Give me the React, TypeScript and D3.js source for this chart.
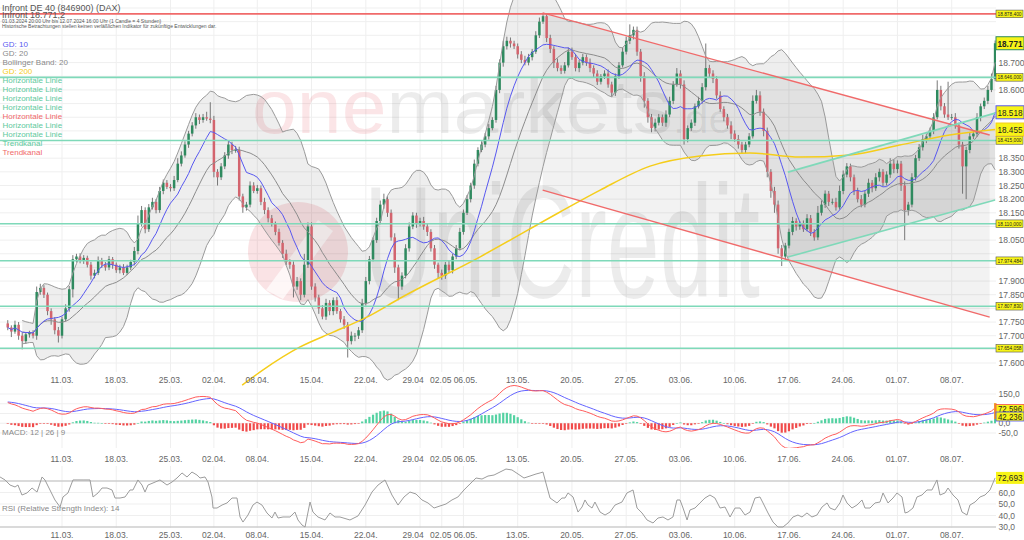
import React from "react";
import * as d3 from "d3";

// ---------------- data ----------------
const FIRST_OPEN = 17745;
const LAST_QUOTE = 18771.2;

// closes of 4h candles, 3 per trading day, 04.03.2024 ... 12.07.2024
const closes: number[] = [
  17730, 17715, 17740, 17700, 17680, 17705, 17710, 17700, 17860, 17875, 17850, 17790,
  17760, 17720, 17700, 17760, 17800, 17870, 17980, 17990, 17975, 17985, 17960, 17920,
  17930, 17975, 17960, 17950, 17980, 17960, 17940, 17950, 17930, 17950, 17970, 18010,
  18110, 18160, 18090, 18170, 18190, 18160, 18230, 18260, 18245, 18240, 18270, 18330,
  18360, 18400, 18440, 18470, 18500, 18490, 18500, 18495, 18490, 18300, 18280, 18320,
  18360, 18400, 18380, 18380, 18210, 18170, 18180, 18250, 18230, 18240, 18190, 18160,
  18130, 18110, 18080, 18040, 18000, 17970, 17960, 17880, 17900, 17850, 17960, 18100,
  17880, 17840, 17800, 17770, 17820, 17790, 17830, 17790, 17760, 17740, 17680, 17700,
  17700, 17720, 17820, 17900, 17980, 18050, 18120, 18180, 18200, 18150, 18060, 17950,
  17880, 17920, 18020, 18100, 18140, 18110, 18120, 18100, 18080, 18020, 17960, 17930,
  17920, 17960, 17940, 17990, 18020, 18080, 18150, 18200, 18250, 18330, 18380, 18400,
  18430, 18460, 18490, 18600, 18700, 18760, 18780, 18770, 18760, 18730, 18710, 18700,
  18720, 18740, 18800, 18850, 18870, 18790, 18750, 18700, 18680, 18670, 18690, 18740,
  18720, 18680, 18700, 18720, 18700, 18680, 18660, 18630, 18650, 18660, 18620, 18590,
  18650, 18690, 18740, 18780, 18800, 18820, 18740, 18650, 18560, 18500, 18460, 18480,
  18500, 18480, 18510, 18560, 18620, 18660, 18620, 18420, 18460, 18480, 18540, 18560,
  18610, 18680, 18660, 18640, 18580, 18530, 18500, 18470, 18440, 18420, 18400, 18380,
  18400, 18430, 18560, 18580, 18520, 18450, 18300, 18230, 18180, 18020, 17990, 18030,
  18080, 18120, 18100, 18110, 18090, 18130, 18080, 18060, 18150, 18180, 18220, 18190,
  18190, 18170, 18230, 18290, 18320, 18280, 18230, 18200, 18180, 18220, 18260, 18240,
  18280, 18300, 18260, 18290, 18330, 18310, 18330, 18250, 18160, 18180, 18280, 18350,
  18390, 18420, 18430, 18450, 18500, 18600, 18540, 18510, 18500, 18500, 18470, 18400,
  18320, 18380, 18430, 18440, 18500, 18540, 18560, 18600, 18640, 18771,
];

const upWick: number[] = [
  12, 8, 15, 10, 12, 8, 8, 10, 20, 15, 10, 8, 10, 8, 12, 10, 15, 12, 15, 10, 12, 10, 8, 10,
  12, 15, 10, 10, 12, 8, 8, 10, 12, 10, 8, 15, 30, 15, 10, 12, 15, 10, 15, 12, 10, 10, 15, 20,
  15, 12, 10, 12, 15, 10, 12, 20, 60, 15, 10, 12, 12, 15, 10, 15, 12, 10, 10, 15, 12, 12, 10, 15,
  10, 12, 8, 12, 10, 15, 10, 12, 15, 10, 40, 15, 15, 12, 10, 12, 15, 10, 10, 12, 8, 12, 10, 15,
  10, 12, 15, 15, 12, 10, 12, 15, 20, 10, 12, 15, 10, 12, 15, 15, 12, 10, 12, 15, 10, 10, 12, 8,
  12, 10, 15, 10, 12, 15, 12, 15, 10, 15, 10, 12, 12, 15, 10, 15, 12, 20, 15, 12, 10, 10, 12, 15,
  12, 10, 15, 15, 12, 10, 12, 10, 15, 10, 12, 15, 15, 12, 10, 12, 10, 15, 10, 12, 8, 12, 15, 10,
  10, 12, 15, 15, 40, 12, 12, 10, 15, 10, 12, 15, 12, 10, 15, 15, 12, 20, 12, 15, 10, 12, 10, 15,
  15, 90, 12, 12, 10, 15, 10, 12, 15, 12, 15, 10, 10, 12, 20, 20, 15, 12, 12, 10, 15, 15, 12, 10,
  12, 15, 10, 10, 12, 15, 12, 10, 25, 15, 12, 10, 12, 15, 20, 15, 12, 10, 10, 12, 15, 12, 15, 10,
  15, 12, 10, 12, 20, 15, 12, 10, 15, 10, 15, 12, 12, 15, 10, 12, 15, 35, 15, 12, 120, 12, 15, 10,
  10, 12, 15, 12, 15, 10, 12, 15, 20, 10,
];

const downWick: number[] = [
  10, 20, 8, 15, 30, 10, 12, 10, 15, 10, 12, 15, 20, 15, 25, 10, 8, 12, 30, 12, 10, 12, 10, 15,
  10, 8, 12, 12, 10, 15, 10, 12, 8, 8, 10, 12, 12, 10, 15, 10, 8, 12, 10, 12, 8, 12, 10, 8,
  10, 8, 12, 10, 12, 15, 10, 8, 12, 20, 30, 10, 10, 12, 15, 10, 15, 20, 12, 10, 8, 10, 12, 15,
  15, 10, 12, 10, 15, 12, 15, 40, 12, 20, 10, 12, 12, 15, 20, 10, 12, 15, 15, 10, 12, 15, 60, 12,
  20, 12, 10, 10, 12, 8, 10, 12, 15, 15, 12, 20, 50, 12, 10, 12, 10, 15, 10, 12, 15, 12, 15, 20,
  15, 12, 10, 12, 10, 8, 10, 8, 12, 12, 10, 8, 10, 12, 8, 10, 12, 15, 12, 15, 10, 15, 12, 10,
  10, 12, 8, 10, 8, 15, 15, 20, 12, 12, 10, 8, 10, 12, 15, 10, 12, 15, 15, 12, 10, 10, 12, 15,
  12, 10, 8, 10, 12, 15, 15, 20, 25, 20, 15, 12, 10, 12, 15, 10, 12, 8, 15, 20, 12, 10, 12, 8,
  10, 12, 15, 15, 12, 10, 15, 12, 20, 10, 15, 12, 12, 10, 8, 10, 15, 20, 20, 25, 30, 20, 35, 12,
  10, 12, 15, 12, 10, 8, 15, 12, 10, 10, 12, 15, 10, 12, 8, 12, 10, 15, 15, 12, 10, 10, 12, 15,
  10, 15, 12, 10, 12, 15, 15, 20, 110, 20, 10, 12, 10, 12, 15, 10, 12, 8, 15, 12, 10, 10, 12, 15,
  100, 120, 12, 10, 12, 15, 10, 12, 8, 8,
];

const CANDLES_PER_DAY = 3;
const DAYS = 92;

const tickLabels = ["11.03.", "18.03.", "25.03.", "02.04.", "08.04.", "15.04.", "22.04.", "29.04", "02.05", "06.05.",
  "13.05.", "20.05.", "27.05.", "03.06.", "10.06.", "17.06.", "24.06.", "01.07.", "08.07."];
const tickDays = [5, 10, 15, 19, 23, 28, 33, 38, 40, 42, 47, 52, 57, 62, 67, 72, 77, 82, 87];

const gd200Days = [21.6, 23.5, 26.9, 30.0, 33.1, 36.2, 43.5, 50.9, 54.6, 59.2, 63.8, 68.4, 73.0, 77.6, 82.2, 86.8, 91.0];
const gd200Values = [17519, 17574, 17658, 17713, 17768, 17838, 17988, 18153, 18233, 18321, 18358, 18369, 18354, 18362, 18398, 18435, 18455];

// RSI(14) (position in trading days, value)
const rsiDays = [
  -0.71, -0.25, 0.21, 0.67, 0.94, 1.31, 1.77, 2.24, 2.7, 3.16, 3.43, 3.89, 4.35, 4.82, 5.09, 5.55, 6.01, 6.47, 6.94, 7.58,
  7.86, 8.32, 8.69, 9.15, 9.61, 9.89, 10.35, 10.81, 11.27, 11.54, 12.0, 12.37, 12.65, 12.93, 13.39, 14.03, 14.68, 15.14, 15.6, 16.06,
  16.52, 16.98, 17.44, 17.72, 18.18, 18.46, 18.82, 18.92, 19.29, 19.75, 20.21, 20.67, 21.13, 21.41, 21.68, 22.14, 22.6, 22.97, 23.43, 23.89,
  24.35, 24.63, 24.91, 25.37, 26.01, 26.47, 26.75, 27.12, 27.4, 27.86, 28.13, 28.59, 29.24, 29.7, 30.16, 30.62, 31.54, 32.28, 32.93, 33.57,
  34.13, 34.77, 35.41, 35.97, 36.52, 37.07, 37.63, 38.18, 38.73, 39.29, 39.84, 40.39, 40.94, 41.49, 42.05, 42.6, 43.16, 43.71, 44.26, 44.82,
  45.37, 45.92, 46.47, 47.03, 47.58, 48.13, 48.69, 49.06, 49.33, 49.7, 49.98, 50.62, 51.08, 51.36, 51.64, 52.1, 52.56, 52.93, 53.2, 53.48,
  53.85, 54.12, 54.59, 55.05, 55.51, 55.97, 56.61, 57.07, 57.63, 58.0, 58.46, 58.92, 59.47, 59.93, 60.39, 60.85, 61.31, 61.68, 61.96, 62.24,
  62.61, 62.88, 63.34, 63.8, 64.26, 64.72, 65.18, 65.65, 66.11, 66.57, 67.03, 67.49, 67.95, 68.41, 68.87, 69.33, 69.61, 70.07, 70.53, 70.99,
  71.45, 71.91, 72.37, 72.83, 73.2, 73.66, 74.12, 74.58, 75.05, 75.51, 75.78, 76.24, 76.7, 76.98, 77.35, 77.81, 78.27, 78.73, 79.01, 79.47,
  79.93, 80.39, 80.67, 81.13, 81.59, 81.96, 82.42, 82.7, 82.97, 83.43, 83.8, 84.26, 84.72, 85.18, 85.64, 85.92, 86.38, 86.66, 87.12, 87.58,
  87.95, 88.41, 88.68, 89.15, 89.61, 90.07, 90.53, 91.0,
];
const rsiValues = [
  73.5, 70.9, 66.5, 64.8, 66.5, 57.8, 59.6, 63.9, 60.4, 73.5, 70.9, 62.2, 53.5, 47.4, 56.1, 59.6, 70.9, 70.9, 70.9, 70.9,
  56.1, 59.6, 63.9, 63.9, 62.2, 55.2, 55.2, 56.1, 62.2, 62.2, 70.9, 66.5, 60.4, 66.5, 68.3, 70.9, 66.5, 69.1, 72.6, 77.0,
  73.5, 77.8, 75.2, 72.6, 73.5, 69.1, 56.1, 46.5, 46.5, 49.1, 50.9, 55.2, 55.2, 38.7, 34.3, 40.4, 49.1, 51.7, 49.1, 42.2,
  37.8, 43.0, 37.8, 38.7, 38.7, 43.0, 36.1, 31.7, 30.0, 51.7, 43.0, 38.7, 36.1, 42.2, 38.7, 38.7, 36.1, 39.6, 49.1, 60.4,
  66.5, 70.9, 57.8, 49.1, 56.1, 60.4, 58.7, 53.5, 50.9, 46.5, 48.3, 50.0, 53.5, 56.1, 62.2, 67.4, 72.6, 71.7, 74.3, 75.2,
  77.8, 80.4, 79.6, 76.1, 72.6, 74.3, 76.1, 77.0, 77.8, 64.8, 55.2, 50.9, 55.2, 55.2, 59.6, 56.1, 43.0, 47.4, 53.5, 49.1,
  46.5, 51.7, 43.0, 40.4, 43.0, 49.1, 51.7, 59.6, 62.2, 46.5, 42.2, 36.1, 33.5, 37.8, 38.7, 36.1, 38.7, 53.5, 53.5, 46.5,
  36.1, 44.8, 46.5, 50.9, 55.2, 57.8, 55.2, 46.5, 47.4, 38.7, 46.5, 46.5, 40.4, 43.0, 55.2, 56.1, 50.9, 42.2, 34.3, 30.0,
  30.0, 33.5, 38.7, 40.4, 38.7, 42.2, 38.7, 40.4, 47.4, 50.9, 46.5, 44.8, 50.9, 57.8, 50.9, 46.5, 49.1, 53.5, 46.5, 46.5,
  50.9, 51.7, 59.6, 50.9, 55.2, 59.6, 56.1, 42.2, 43.0, 46.5, 56.1, 57.8, 62.2, 62.2, 70.9, 57.8, 59.6, 63.9, 57.8, 53.5,
  43.0, 40.4, 49.1, 51.7, 56.1, 57.8, 62.2, 72.693,
];

const hLineValues = [18878.4, 18646, 18415, 18110, 17974.484, 17807.83, 17654.058];
const hLineLabels = ["18.878,400", "18.646,000", "18.415,000", "18.110,000", "17.974,484", "17.807,830", "17.654,058"];
const hLineIsRed = [true, false, false, false, false, false, false];

const redChannelDays = [49.3, 90.5];
const redUpperValues = [18882, 18435];
const redLowerValues = [18233, 17768];
const greenChannelDays = [71.9, 91.0];
const greenUpperValues = [18299, 18515];
const greenLowerValues = [17988, 18197];

const legendLabels = ["GD: 10", "GD: 20", "Bollinger Band: 20", "GD: 200", "Horizontale Linie", "Horizontale Linie",
  "Horizontale Linie", "Horizontale Linie", "Horizontale Linie", "Horizontale Linie", "Horizontale Linie", "Trendkanal", "Trendkanal"];
const legendKinds = ["blue", "gray", "gray", "yellow", "green", "green", "green", "green", "red", "green", "green", "green", "red"];

const EMA12_SEED = 17700;
const EMA26_SEED = 17588;
const SIGNAL_SEED = 110;

const macdLastValue = 72.596;
const signalLastValue = 42.236;

const priceTicks = d3.range(17600, 18901, 50);
const macdTicks = [150, 100, 50, 0, -50];
const rsiTicks = [70, 60, 50, 40, 30];

// ---------------- styling ----------------
const FONT = "'Liberation Sans', Arial, sans-serif";
const COL = {
  green: "#7fd9b9",
  greenText: "#5ec99c",
  red: "#f06a6a",
  blue: "#5858f0",
  gray: "#8a8a8a",
  yellow: "#f5cd1a",
  candleUp: "#2f8a5f",
  candleDown: "#d3646e",
  wick: "#6a6a6a",
  axis: "#666",
  grid: "#efefef",
  box: "#f7f417",
};

const de = d3.formatLocale({ decimal: ",", thousands: ".", grouping: [3], currency: ["", "€"], minus: "-" });
const fmtPrice = de.format(",.0f");
const fmtOne = de.format(".1f");
const fmtThree = de.format(".3f");

export default function App() {
  const N = closes.length;
  const opens = closes.map((c, i) => (i === 0 ? FIRST_OPEN : closes[i - 1]));
  const highs = closes.map((c, i) => Math.max(opens[i], c) + upWick[i]);
  const lows = closes.map((c, i) => Math.min(opens[i], c) - downWick[i]);
  const times = closes.map((_, i) => Math.floor(i / CANDLES_PER_DAY) + (i % CANDLES_PER_DAY) / CANDLES_PER_DAY);

  const x = d3.scaleLinear().domain([0, DAYS]).range([7.75, 7.75 + DAYS * 10.85]);
  const yP = d3.scaleLinear().domain([17600, 18900]).range([363, 8]);
  const yM = d3.scaleLinear().domain([-50, 150]).range([433, 394]);
  const yR = d3.scaleLinear().domain([30, 70]).range([527, 481]);

  // indicators
  const stats = (i: number, n: number) => {
    const s = closes.slice(Math.max(0, i - n + 1), i + 1);
    const m = d3.mean(s) as number;
    const sd = Math.sqrt(d3.mean(s.map((v) => (v - m) * (v - m))) as number);
    return { m, sd };
  };
  const gd10 = closes.map((_, i) => stats(i, 10).m);
  const bb = closes.map((_, i) => {
    const { m, sd } = stats(i, 20);
    return { i, m, up: m + 2 * sd, lo: m - 2 * sd };
  }).filter((d) => d.i >= 4);

  let e12 = EMA12_SEED, e26 = EMA26_SEED, sig = SIGNAL_SEED;
  const macd: { m: number; s: number; h: number }[] = [];
  closes.forEach((c) => {
    e12 = c * (2 / 13) + e12 * (11 / 13);
    e26 = c * (2 / 27) + e26 * (25 / 27);
    const m = e12 - e26;
    sig = m * 0.2 + sig * 0.8;
    macd.push({ m, s: sig, h: m - sig });
  });

  const gd10Path = d3.line<number>().x((_, i) => x(times[i])).y((v) => yP(v))(gd10) || "";
  const bbX = (d: any) => x(times[d.i]);
  const bbArea = d3.area<any>().x(bbX).y0((d) => yP(d.lo)).y1((d) => yP(d.up))(bb) || "";
  const bbUp = d3.line<any>().x(bbX).y((d) => yP(d.up))(bb) || "";
  const bbLo = d3.line<any>().x(bbX).y((d) => yP(d.lo))(bb) || "";
  const bbMid = d3.line<any>().x(bbX).y((d) => yP(d.m))(bb) || "";
  const gd200Path = d3.line<number>().x((d) => x(d)).y((_, i) => yP(gd200Values[i])).curve(d3.curveMonotoneX)(gd200Days) || "";
  const macdPath = d3.line<any>().x((_, i) => x(times[i])).y((d) => yM(d.m))(macd) || "";
  const sigPath = d3.line<any>().x((_, i) => x(times[i])).y((d) => yM(d.s))(macd) || "";
  const rsiPath = d3.line<number>().x((d) => x(d)).y((_, i) => yR(rsiValues[i]))(rsiDays) || "";

  const channelPoly = (days: number[], up: number[], lo: number[]) =>
    `M${x(days[0])},${yP(up[0])}L${x(days[1])},${yP(up[1])}L${x(days[1])},${yP(lo[1])}L${x(days[0])},${yP(lo[0])}Z`;

  const legendColor = (k: string) =>
    k === "blue" ? COL.blue : k === "gray" ? COL.gray : k === "yellow" ? COL.yellow : k === "red" ? COL.red : COL.greenText;

  const lastGd10 = gd10[N - 1];
  const lastClose = closes[N - 1];
  const lastGd200 = gd200Values[gd200Values.length - 1];
  const lastRsi = rsiValues[rsiValues.length - 1];
  const crowdedShift: Record<string, number> = { "29.04": -7, "02.05": -1, "06.05.": 2 };

  // value boxes on the right axis hide the tick labels they cover
  const smallBoxYs = hLineValues.map((v) => yP(v));
  const bigBoxYs = [yP(lastClose), yP(lastGd10), yP(lastGd200)];
  const visiblePriceTicks = priceTicks.filter((v) =>
    smallBoxYs.every((b) => Math.abs(b - yP(v)) > 9) && bigBoxYs.every((b) => Math.abs(b - yP(v)) > 10.5));
  const visibleMacdTicks = macdTicks.filter((v) => [yM(macdLastValue), yM(signalLastValue)].every((b) => Math.abs(b - yM(v)) > 8));
  const visibleRsiTicks = rsiTicks.filter((v) => Math.abs(yR(lastRsi) - yR(v)) > 9);

  const xLabels = (yy: number, key: string) =>
    tickLabels.map((t, i) => (
      <text key={key + i} x={x(tickDays[i]) + (crowdedShift[t] || 0)} y={yy} fontSize={8.5} fill={COL.axis} textAnchor="middle" fontFamily={FONT}>
        {t}
      </text>
    ));

  const bigBox = (v: number, label: string, stroke: string, key: string, bold = false) => (
    <g key={key}>
      <rect x={996} y={yP(v) - 6.5} width={28} height={13} fill={COL.box} stroke={stroke} strokeWidth={1} />
      <text x={997.5} y={yP(v) + 3.4} fontSize={8.8} fontWeight={bold ? "bold" : "normal"} fill="#222"
        textLength={25} lengthAdjust="spacingAndGlyphs">{label}</text>
    </g>
  );

  return (
    <svg width={1024} height={540} style={{ position: "absolute", left: 0, top: 0, background: "#fff" }} fontFamily={FONT}>
      <rect x={0} y={0} width={1024} height={540} fill="#fff" />
      <defs>
        <clipPath id="mainClip"><rect x={0} y={0} width={996} height={372} /></clipPath>
        <clipPath id="macdClip"><rect x={0} y={384} width={996} height={64} /></clipPath>
        <clipPath id="rsiClip"><rect x={0} y={464} width={996} height={68} /></clipPath>
      </defs>

      {/* grid */}
      {priceTicks.map((v) => (
        <line key={"hg" + v} x1={0} x2={996} y1={yP(v)} y2={yP(v)} stroke={COL.grid} />
      ))}
      {macdTicks.map((v) => (
        <line key={"mg" + v} x1={0} x2={996} y1={yM(v)} y2={yM(v)} stroke={COL.grid} />
      ))}
      {rsiTicks.map((v) => (
        <line key={"rg" + v} x1={0} x2={996} y1={yR(v)} y2={yR(v)} stroke={COL.grid} />
      ))}
      {tickDays.map((d) => (
        <g key={"vg" + d}>
          <line x1={x(d)} x2={x(d)} y1={0} y2={372} stroke={COL.grid} />
          <line x1={x(d)} x2={x(d)} y1={386} y2={448} stroke={COL.grid} />
          <line x1={x(d)} x2={x(d)} y1={466} y2={528} stroke={COL.grid} />
        </g>
      ))}

      {/* watermark */}
      <g>
        <text x={252} y={133} fontSize={76} textLength={480} lengthAdjust="spacingAndGlyphs">
          <tspan fill="rgba(226,70,86,0.14)">one</tspan>
          <tspan fill="rgba(0,0,0,0.075)">markets</tspan>
          <tspan fill="rgba(0,0,0,0.075)" fontSize={40}>.de</tspan>
        </text>
        <circle cx={298} cy={252} r={50} fill="rgba(220,60,72,0.14)" />
        <path d="M266,290 L318,220 L333,231 L283,299 Z" fill="rgba(255,255,255,0.7)" />
        <g transform="translate(364,297) scale(1,1.33)">
          <text x={0} y={0} fontSize={120} textLength={396} lengthAdjust="spacingAndGlyphs" fill="rgba(0,0,0,0.075)">UniCredit</text>
        </g>
      </g>

      {/* fills */}
      <path d={bbArea} fill="rgba(0,0,0,0.065)" />
      <path d={channelPoly(redChannelDays, redUpperValues, redLowerValues)} fill="rgba(0,0,0,0.05)" />
      <path d={channelPoly(greenChannelDays, greenUpperValues, greenLowerValues)} fill="rgba(0,0,0,0.05)" />

      {/* candles */}
      <g clipPath="url(#mainClip)">
        {closes.map((c, i) => {
          const o = opens[i];
          const cx = x(times[i]);
          const up = c >= o;
          const top = yP(Math.max(o, c));
          const h = Math.max(0.8, Math.abs(yP(o) - yP(c)));
          return (
            <g key={"c" + i}>
              <line x1={cx} x2={cx} y1={yP(highs[i])} y2={yP(lows[i])} stroke={COL.wick} strokeWidth={0.9} />
              <rect x={cx - 1.25} y={top} width={2.5} height={h} fill={up ? COL.candleUp : COL.candleDown} />
            </g>
          );
        })}
      </g>

      {/* indicator lines */}
      <path d={bbUp} fill="none" stroke="#9a9a9a" strokeWidth={1} />
      <path d={bbLo} fill="none" stroke="#9a9a9a" strokeWidth={1} />
      <path d={bbMid} fill="none" stroke="#8c8c8c" strokeWidth={1} />
      <path d={gd10Path} fill="none" stroke={COL.blue} strokeWidth={1} />
      <path d={gd200Path} fill="none" stroke={COL.yellow} strokeWidth={1.5} />

      {/* horizontal lines */}
      {hLineValues.map((v, i) => (
        <line key={"hl" + i} x1={0} x2={996} y1={yP(v)} y2={yP(v)} stroke={hLineIsRed[i] ? COL.red : COL.green} strokeWidth={1.6} />
      ))}
      {/* trend channels */}
      <line x1={x(redChannelDays[0])} x2={x(redChannelDays[1])} y1={yP(redUpperValues[0])} y2={yP(redUpperValues[1])} stroke={COL.red} strokeWidth={1.4} />
      <line x1={x(redChannelDays[0])} x2={x(redChannelDays[1])} y1={yP(redLowerValues[0])} y2={yP(redLowerValues[1])} stroke={COL.red} strokeWidth={1.4} />
      <line x1={x(greenChannelDays[0])} x2={x(greenChannelDays[1])} y1={yP(greenUpperValues[0])} y2={yP(greenUpperValues[1])} stroke={COL.green} strokeWidth={1.6} />
      <line x1={x(greenChannelDays[0])} x2={x(greenChannelDays[1])} y1={yP(greenLowerValues[0])} y2={yP(greenLowerValues[1])} stroke={COL.green} strokeWidth={1.6} />

      {/* titles */}
      <text x={2} y={11} fontSize={9} fill="#555">Infront DE 40 (846900) (DAX)</text>
      <text x={2} y={17.5} fontSize={9} fill="#555">Infront {de.format(",.1f")(LAST_QUOTE)}</text>
      <text x={2} y={22.5} fontSize={5} fill="#555">01.03.2024 20:00 Uhr bis 12.07.2024 16:00 Uhr (1 Candle = 4 Stunden)</text>
      <text x={2} y={27.5} fontSize={5} fill="#555">Historische Betrachtungen stellen keinen verläßlichen Indikator für zukünftige Entwicklungen dar.</text>

      {/* legend */}
      {legendLabels.map((t, i) => (
        <text key={"lg" + i} x={2.5} y={46.5 + i * 9.08} fontSize={8} fill={legendColor(legendKinds[i])}>{t}</text>
      ))}

      {/* price axis */}
      {visiblePriceTicks.map((v) => (
        <text key={"pt" + v} x={998.5} y={yP(v) + 3} fontSize={8.5} fill={COL.axis}>{fmtPrice(v)}</text>
      ))}
      {hLineValues.map((v, i) => (
        <g key={"hb" + i}>
          <rect x={996} y={yP(v) - 3.8} width={27} height={7.6} fill={COL.box} stroke="#555" strokeWidth={0.6} />
          <text x={997.5} y={yP(v) + 2} fontSize={5.4} fill="#222" textLength={24} lengthAdjust="spacingAndGlyphs">{hLineLabels[i]}</text>
        </g>
      ))}
      {bigBox(lastGd200, fmtPrice(lastGd200), COL.yellow, "b200")}
      {bigBox(lastGd10, fmtPrice(lastGd10), COL.blue, "b10")}
      {bigBox(lastClose, fmtPrice(lastClose), COL.candleUp, "blast", true)}

      {xLabels(383, "xm")}

      {/* MACD panel */}
      <g clipPath="url(#macdClip)">
        {macd.map((d, i) => (
          <rect key={"h" + i} x={x(times[i]) - 1.1} width={2.2}
            y={Math.min(yM(0), yM(d.h))} height={Math.max(0.6, Math.abs(yM(d.h) - yM(0)))}
            fill={d.h >= 0 ? "#54d2a2" : "#f04a4a"} />
        ))}
        <path d={sigPath} fill="none" stroke="#6464ff" strokeWidth={1} />
        <path d={macdPath} fill="none" stroke="#ff5c5c" strokeWidth={1} />
      </g>
      <text x={2} y={435} fontSize={8} fill="#888">MACD: 12 | 26 | 9</text>
      {visibleMacdTicks.map((v) => (
        <text key={"mt" + v} x={998.5} y={yM(v) + 3} fontSize={8.5} fill={COL.axis}>{fmtOne(v)}</text>
      ))}
      <rect x={994} y={yM(macdLastValue) - 6} width={2.5} height={16} fill="#f39a2a" />
      <rect x={996} y={yM(macdLastValue) - 4.5} width={28} height={9} fill={COL.box} stroke="#f05050" strokeWidth={0.8} />
      <text x={998} y={yM(macdLastValue) + 3} fontSize={8.5} fill="#222" textLength={24} lengthAdjust="spacingAndGlyphs">{fmtThree(macdLastValue)}</text>
      <rect x={996} y={yM(signalLastValue) - 3} width={28} height={9} fill={COL.box} stroke="#5050f0" strokeWidth={0.8} />
      <text x={998} y={yM(signalLastValue) + 4.5} fontSize={8.5} fill="#222" textLength={24} lengthAdjust="spacingAndGlyphs">{fmtThree(signalLastValue)}</text>
      {xLabels(462, "xmacd")}

      {/* RSI panel */}
      <line x1={0} x2={996} y1={yR(70)} y2={yR(70)} stroke="#bdbdbd" />
      <line x1={0} x2={996} y1={yR(30)} y2={yR(30)} stroke="#bdbdbd" />
      <g clipPath="url(#rsiClip)">
        <path d={rsiPath} fill="none" stroke="#9c9c9c" strokeWidth={1} />
      </g>
      <text x={2} y={511} fontSize={8} fill="#888">RSI (Relative Strength Index): 14</text>
      {visibleRsiTicks.map((v) => (
        <text key={"rt" + v} x={998.5} y={yR(v) + 3} fontSize={8.5} fill={COL.axis}>{fmtOne(v)}</text>
      ))}
      <rect x={996} y={yR(lastRsi) - 6} width={28} height={12} fill={COL.box} />
      <text x={997.5} y={yR(lastRsi) + 3.4} fontSize={9} fill="#222" textLength={25} lengthAdjust="spacingAndGlyphs">{fmtThree(lastRsi)}</text>
      {xLabels(538, "xrsi")}
    </svg>
  );
}
